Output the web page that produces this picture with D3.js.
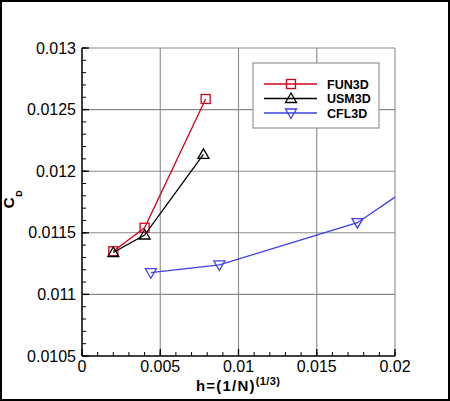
<!DOCTYPE html>
<html>
<head>
<meta charset="utf-8">
<script src="https://cdn.jsdelivr.net/npm/d3@7"></script>
<style>
  body { margin: 0; background: #fff; }
  text { font-family: "Liberation Sans", Arial, sans-serif; }
</style>
</head>
<body>
<svg id="chart" width="450" height="401"></svg>
<script>
// grid resolution h and drag coefficient per code
var fun3dH = [0.002, 0.004, 0.0079];
var fun3dCd = [0.01135, 0.011541, 0.012586];
var usm3dH = [0.002, 0.004, 0.00776];
var usm3dCd = [0.01134, 0.011482, 0.012137];
var cfl3dH = [0.0044, 0.00878, 0.0176, 0.0352];
var cfl3dCd = [0.011176, 0.011239, 0.011582, 0.013105];

var xTicks = [0, 0.005, 0.01, 0.015, 0.02];
var xTickLabels = ["0", "0.005", "0.01", "0.015", "0.02"];
var yTicks = [0.0105, 0.011, 0.0115, 0.012, 0.0125, 0.013];
var yTickLabels = ["0.0105", "0.011", "0.0115", "0.012", "0.0125", "0.013"];

var seriesNames = ["FUN3D", "USM3D", "CFL3D"];
var seriesColors = ["#d0021b", "#000000", "#3f3fe6"];
var seriesMarkers = ["square", "triUp", "triDown"];

var svg = d3.select("#chart"),
  margin = { top: 48, right: 55, bottom: 45, left: 82 },
  width = 450 - margin.left - margin.right,
  height = 401 - margin.top - margin.bottom;

// outer frame
svg.append("rect")
  .attr("x", 1).attr("y", 1)
  .attr("width", 448).attr("height", 399)
  .attr("fill", "white")
  .attr("stroke", "black")
  .attr("stroke-width", 2);

var xScale = d3.scaleLinear().domain([0, 0.02]).range([0, width]);
var yScale = d3.scaleLinear().domain([0.0105, 0.013]).range([height, 0]);

var g = svg.append("g")
  .attr("transform", "translate(" + margin.left + "," + margin.top + ")");

svg.append("defs").append("clipPath").attr("id", "plotClip")
  .append("rect")
  .attr("x", margin.left).attr("y", margin.top)
  .attr("width", width).attr("height", height);

// grid lines
g.selectAll(".vgrid").data(xTicks.slice(1)).enter().append("line")
  .attr("x1", function (d) { return xScale(d); })
  .attr("x2", function (d) { return xScale(d); })
  .attr("y1", 0).attr("y2", height)
  .attr("stroke", "#8a8a8a").attr("stroke-width", 1.1);
g.selectAll(".hgrid").data(yTicks.slice(1)).enter().append("line")
  .attr("x1", 0).attr("x2", width)
  .attr("y1", function (d) { return yScale(d); })
  .attr("y2", function (d) { return yScale(d); })
  .attr("stroke", "#8a8a8a").attr("stroke-width", 1.1);

// minor ticks (inward)
var xMinor = d3.range(0, 21).map(function (i) { return i * 0.001; });
var yMinor = d3.range(0, 26).map(function (i) { return 0.0105 + i * 0.0001; });
g.selectAll(".xminor").data(xMinor).enter().append("line")
  .attr("x1", function (d) { return xScale(d); })
  .attr("x2", function (d) { return xScale(d); })
  .attr("y1", height).attr("y2", height - 4)
  .attr("stroke", "black").attr("stroke-width", 1);
g.selectAll(".yminor").data(yMinor).enter().append("line")
  .attr("x1", 0).attr("x2", 4)
  .attr("y1", function (d) { return yScale(d); })
  .attr("y2", function (d) { return yScale(d); })
  .attr("stroke", "black").attr("stroke-width", 1);
// major ticks
g.selectAll(".xmajor").data(xTicks).enter().append("line")
  .attr("x1", function (d) { return xScale(d); })
  .attr("x2", function (d) { return xScale(d); })
  .attr("y1", height).attr("y2", height - 7)
  .attr("stroke", "black").attr("stroke-width", 1.3);
g.selectAll(".ymajor").data(yTicks).enter().append("line")
  .attr("x1", 0).attr("x2", 7)
  .attr("y1", function (d) { return yScale(d); })
  .attr("y2", function (d) { return yScale(d); })
  .attr("stroke", "black").attr("stroke-width", 1.3);

// axis lines
g.append("line").attr("x1", 0).attr("x2", 0).attr("y1", 0).attr("y2", height)
  .attr("stroke", "black").attr("stroke-width", 1.5);
g.append("line").attr("x1", 0).attr("x2", width).attr("y1", height).attr("y2", height)
  .attr("stroke", "black").attr("stroke-width", 1.5);

// tick labels
g.selectAll(".xlab").data(xTicks).enter().append("text")
  .attr("x", function (d) { return xScale(d); })
  .attr("y", height + 16)
  .attr("text-anchor", "middle")
  .style("font-size", "16px")
  .text(function (d, i) { return xTickLabels[i]; });
g.selectAll(".ylab").data(yTicks).enter().append("text")
  .attr("x", -6)
  .attr("y", function (d) { return yScale(d) + 5.5; })
  .attr("text-anchor", "end")
  .style("font-size", "16px")
  .text(function (d, i) { return yTickLabels[i]; });

// axis titles
var xt = svg.append("text")
  .attr("x", 196)
  .attr("y", 391)
  .attr("text-anchor", "start")
  .style("font-size", "15px")
  .style("letter-spacing", "1.2px")
  .style("font-weight", "bold");
xt.append("tspan").text("h=(1/N)");
xt.append("tspan").attr("dy", -6).style("font-size", "11px")
  .style("letter-spacing", "0.4px").text("(1/3)");

var yt = svg.append("text")
  .attr("transform", "translate(13.5,208.5) rotate(-90)")
  .attr("text-anchor", "start")
  .style("font-size", "15.5px")
  .style("font-weight", "bold");
yt.append("tspan").text("C");
yt.append("tspan").attr("dy", 8).attr("dx", 0.5).style("font-size", "9px").text("D");

// markers
function drawMarker(sel, type, color) {
  if (type === "square") {
    sel.append("rect").attr("x", -4.5).attr("y", -4.5).attr("width", 9).attr("height", 9)
      .attr("fill", "none").attr("stroke", color).attr("stroke-width", 1.3);
  } else if (type === "triUp") {
    sel.append("path").attr("d", "M0,-5.5L5.5,4L-5.5,4Z")
      .attr("fill", "none").attr("stroke", color).attr("stroke-width", 1.3);
  } else {
    sel.append("path").attr("d", "M0,5.5L5.5,-4L-5.5,-4Z")
      .attr("fill", "none").attr("stroke", color).attr("stroke-width", 1.3);
  }
}

var allH = [fun3dH, usm3dH, cfl3dH];
var allCd = [fun3dCd, usm3dCd, cfl3dCd];

var lineGenerator = d3.line()
  .x(function (d) { return xScale(d[0]); })
  .y(function (d) { return yScale(d[1]); });

var plot = svg.append("g").attr("clip-path", "url(#plotClip)")
  .append("g")
  .attr("transform", "translate(" + margin.left + "," + margin.top + ")");

for (let s = 0; s < 3; s++) {
  var pts = allH[s].map(function (h, i) { return [h, allCd[s][i]]; });
  plot.append("path")
    .datum(pts)
    .attr("fill", "none")
    .attr("stroke", seriesColors[s])
    .attr("stroke-width", 1.3)
    .attr("d", lineGenerator);
  pts.forEach(function (p) {
    var m = plot.append("g")
      .attr("transform", "translate(" + xScale(p[0]) + "," + yScale(p[1]) + ")");
    drawMarker(m, seriesMarkers[s], seriesColors[s]);
  });
}

// legend
var legend = svg.append("g").attr("transform", "translate(253,63)");
legend.append("rect")
  .attr("width", 126).attr("height", 65)
  .attr("fill", "white").attr("stroke", "#808080").attr("stroke-width", 1);
seriesNames.forEach(function (name, i) {
  var row = legend.append("g").attr("transform", "translate(0," + (21 + i * 14.5) + ")");
  row.append("line").attr("x1", 11).attr("x2", 64).attr("y1", 0).attr("y2", 0)
    .attr("stroke", seriesColors[i]).attr("stroke-width", 1.3);
  var m = row.append("g").attr("transform", "translate(38,0)");
  drawMarker(m, seriesMarkers[i], seriesColors[i]);
  row.append("text").attr("x", 74).attr("y", 4.5)
    .style("font-size", "12.5px").style("font-weight", "bold")
    .text(name);
});
</script>
</body>
</html>
